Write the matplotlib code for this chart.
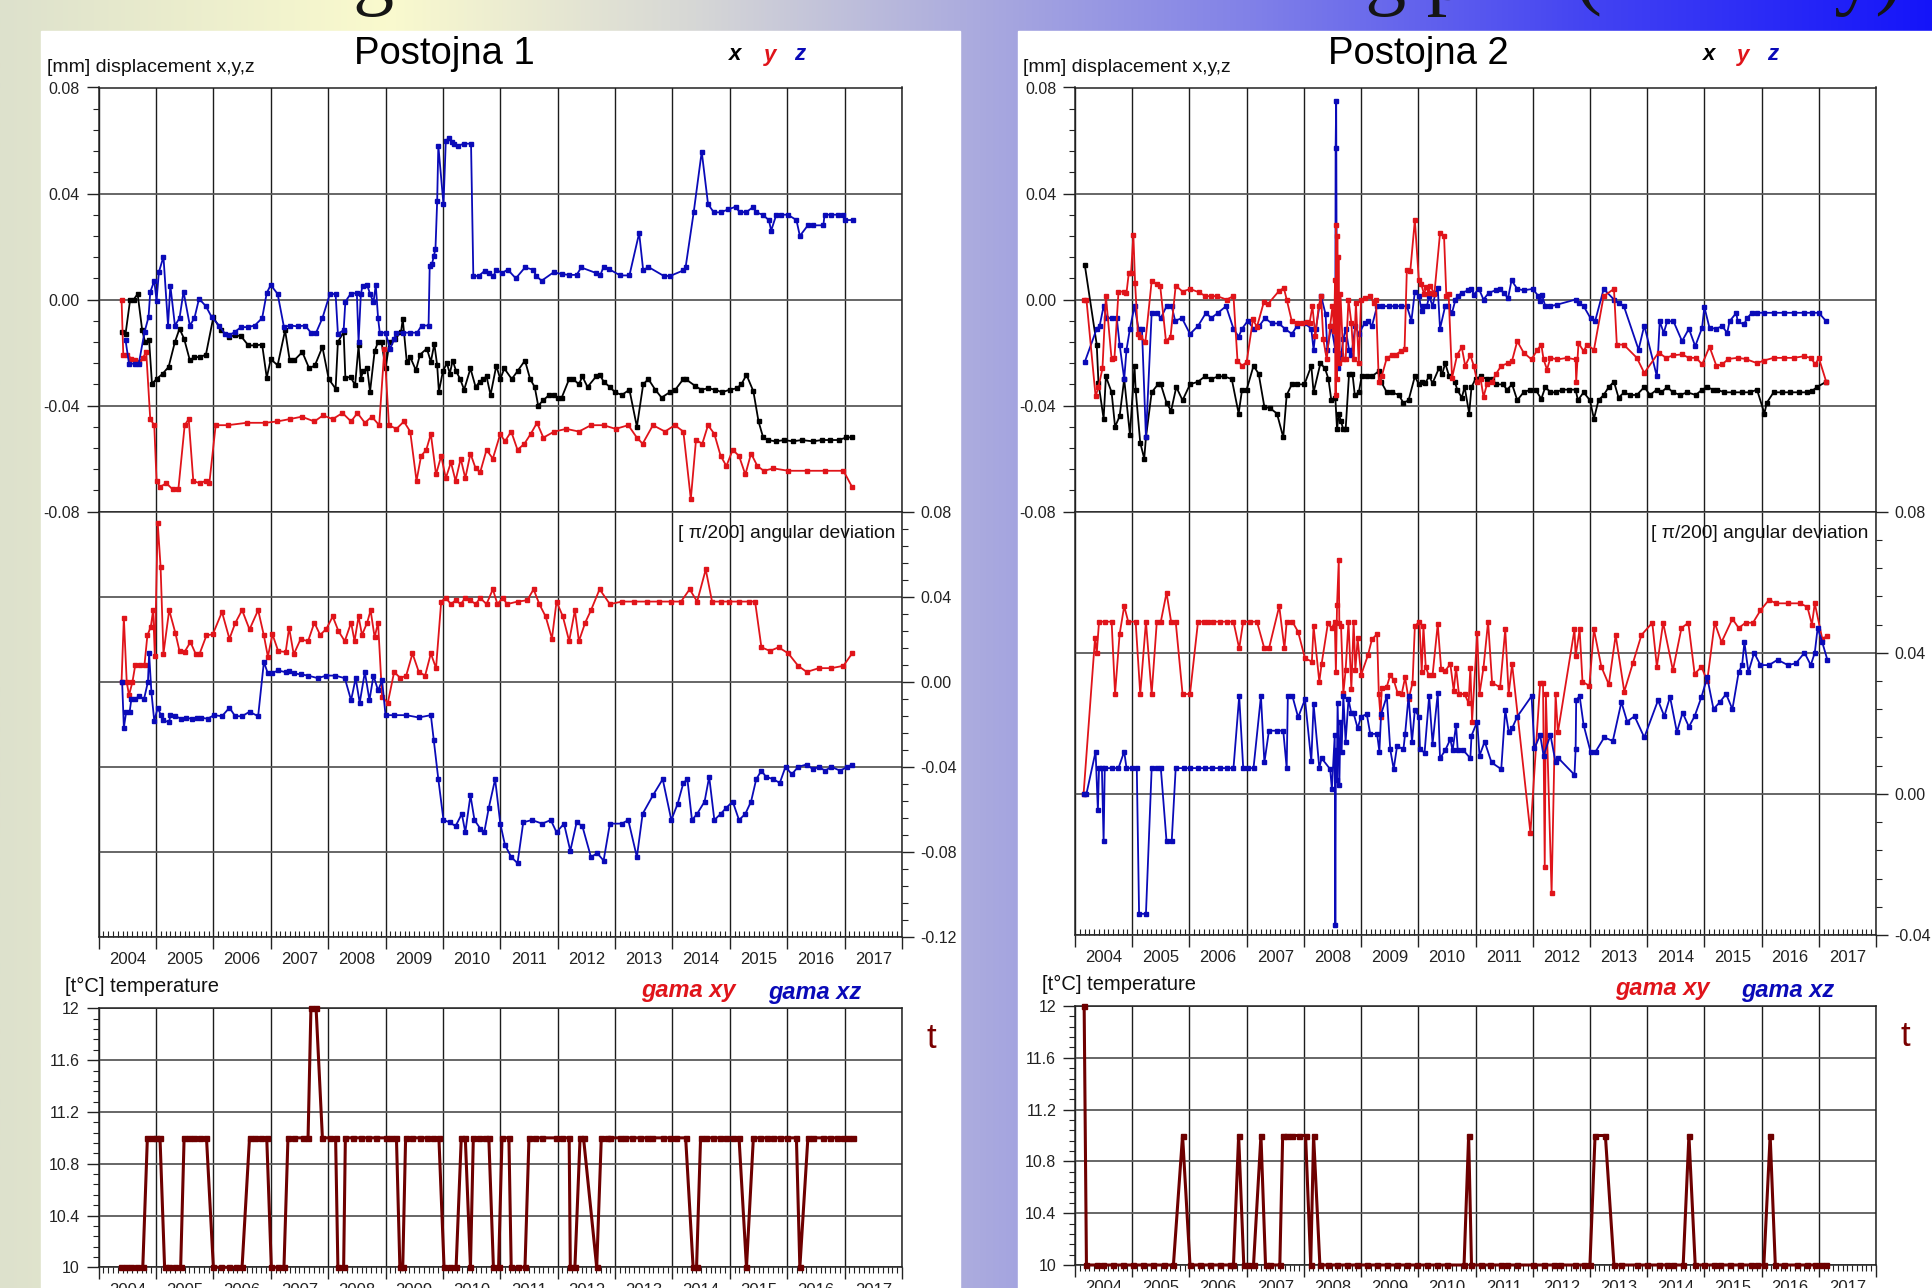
import numpy as np
import matplotlib
matplotlib.use("Agg")
import matplotlib.pyplot as plt
from matplotlib.ticker import MultipleLocator, FormatStrFormatter, FuncFormatter
from matplotlib.patches import Rectangle

plt.rcParams['font.family'] = ['Liberation Sans', 'DejaVu Sans']
plt.rcParams['axes.unicode_minus'] = False

W, H = 1933, 1288

years = list(range(2004, 2018))
year_labels = [str(y) for y in years]

title = "Long-term results of TM 71 reading plot (monthly)"

# ---------------- Postojna 1 ----------------
p1_disp_x = [(2004.41,-0.0123),(2004.47,-0.0129),(2004.55,0.0),(2004.61,0.0),(2004.68,0.0021),(2004.76,-0.0116),
    (2004.81,-0.0160),(2004.88,-0.0154),(2004.93,-0.0317),(2005.01,-0.030),(2005.12,-0.0279),(2005.22,-0.0254),
    (2005.33,-0.0160),(2005.41,-0.0110),(2005.49,-0.0148),(2005.59,-0.0229),(2005.67,-0.0217),(2005.77,-0.0217),
    (2005.87,-0.0208),(2006.00,-0.0066),(2006.13,-0.0116),(2006.27,-0.0141),(2006.37,-0.0135),(2006.48,-0.0138),
    (2006.61,-0.0173),(2006.72,-0.0173),(2006.85,-0.0170),(2006.93,-0.0295),(2007.00,-0.0225),(2007.12,-0.0248),
    (2007.25,-0.0116),(2007.33,-0.0229),(2007.41,-0.0229),(2007.55,-0.0198),(2007.67,-0.0260),(2007.77,-0.0248),
    (2007.90,-0.0179),(2008.01,-0.0300),(2008.13,-0.0336),(2008.17,-0.0160),(2008.27,-0.0123),(2008.30,-0.0295),
    (2008.39,-0.0292),(2008.47,-0.0323),(2008.53,-0.0173),(2008.57,-0.0298),(2008.61,-0.0270),(2008.68,-0.0258),
    (2008.73,-0.0348),(2008.81,-0.0195),(2008.87,-0.0160),(2008.93,-0.0160),(2009.00,-0.0260),(2009.07,-0.0160),
    (2009.17,-0.0148),(2009.27,-0.0123),(2009.30,-0.0073),(2009.37,-0.0235),(2009.43,-0.0217),(2009.53,-0.0267),
    (2009.60,-0.0208),(2009.72,-0.0185),(2009.79,-0.0235),(2009.85,-0.0167),(2009.90,-0.0248),(2009.93,-0.0348),
    (2010.00,-0.027),(2010.07,-0.024),(2010.12,-0.028),(2010.17,-0.023),(2010.23,-0.027),(2010.30,-0.030),
    (2010.37,-0.034),(2010.48,-0.026),(2010.57,-0.033),(2010.64,-0.031),(2010.70,-0.030),(2010.76,-0.029),
    (2010.83,-0.036),(2010.93,-0.025),(2011.00,-0.030),(2011.07,-0.026),(2011.20,-0.030),(2011.30,-0.027),
    (2011.43,-0.023),(2011.52,-0.030),(2011.60,-0.033),(2011.66,-0.040),(2011.75,-0.038),(2011.85,-0.036),
    (2011.93,-0.036),(2012.00,-0.037),(2012.07,-0.037),(2012.20,-0.030),(2012.27,-0.030),(2012.37,-0.032),
    (2012.43,-0.029),(2012.52,-0.033),(2012.67,-0.029),(2012.74,-0.0285),(2012.80,-0.031),(2012.91,-0.033),
    (2013.00,-0.035),(2013.12,-0.036),(2013.25,-0.034),(2013.38,-0.048),(2013.49,-0.032),(2013.58,-0.030),
    (2013.70,-0.034),(2013.81,-0.037),(2013.95,-0.035),(2014.05,-0.034),(2014.19,-0.030),(2014.23,-0.030),
    (2014.39,-0.0325),(2014.50,-0.034),(2014.62,-0.0335),(2014.75,-0.034),(2014.86,-0.035),(2015.00,-0.034),
    (2015.12,-0.0335),(2015.20,-0.032),(2015.29,-0.0284),(2015.41,-0.0346),(2015.50,-0.046),(2015.58,-0.052),
    (2015.66,-0.053),(2015.80,-0.0535),(2015.95,-0.053),(2016.10,-0.0535),(2016.25,-0.053),(2016.45,-0.0535),
    (2016.60,-0.053),(2016.75,-0.053),(2016.90,-0.053),(2017.03,-0.052),(2017.13,-0.052)]

p1_disp_y = [(2004.40,0.0),(2004.43,-0.0208),(2004.50,-0.0208),(2004.57,-0.0223),(2004.63,-0.0229),(2004.70,-0.0235),
    (2004.77,-0.0220),(2004.83,-0.0198),(2004.90,-0.0451),(2004.97,-0.0474),(2005.01,-0.0684),(2005.07,-0.0707),
    (2005.18,-0.0693),(2005.29,-0.0716),(2005.39,-0.0716),(2005.50,-0.0474),(2005.57,-0.0451),(2005.65,-0.0684),
    (2005.76,-0.0693),(2005.87,-0.0684),(2005.93,-0.0693),(2006.04,-0.0474),(2006.25,-0.0474),(2006.58,-0.0465),
    (2006.90,-0.0465),(2007.11,-0.0460),(2007.33,-0.0451),(2007.54,-0.0442),(2007.76,-0.0460),(2007.91,-0.0437),
    (2008.08,-0.0451),(2008.25,-0.0428),(2008.40,-0.0460),(2008.51,-0.0428),(2008.64,-0.0465),(2008.76,-0.0442),
    (2008.89,-0.0474),(2008.98,-0.0186),(2009.06,-0.0474),(2009.19,-0.0488),(2009.32,-0.0460),(2009.43,-0.0498),
    (2009.54,-0.0684),(2009.62,-0.0590),(2009.71,-0.0567),(2009.79,-0.0507),(2009.88,-0.0660),(2009.97,-0.0590),
    (2010.05,-0.0674),(2010.14,-0.0614),(2010.22,-0.0684),(2010.31,-0.0600),(2010.39,-0.0674),(2010.48,-0.0581),
    (2010.57,-0.0637),(2010.65,-0.0651),(2010.76,-0.0567),(2010.87,-0.0600),(2011.00,-0.0507),(2011.08,-0.0535),
    (2011.19,-0.0498),(2011.30,-0.0567),(2011.42,-0.0544),(2011.53,-0.0507),(2011.64,-0.0465),(2011.75,-0.0521),
    (2011.94,-0.0498),(2012.15,-0.0488),(2012.37,-0.0498),(2012.58,-0.0474),(2012.80,-0.0474),(2013.01,-0.0488),
    (2013.23,-0.0474),(2013.38,-0.0521),(2013.48,-0.0544),(2013.66,-0.0474),(2013.87,-0.0498),(2014.04,-0.0474),
    (2014.19,-0.0498),(2014.32,-0.0753),(2014.41,-0.0530),(2014.52,-0.0544),(2014.62,-0.0474),(2014.73,-0.0507),
    (2014.84,-0.0590),(2014.94,-0.0628),(2015.05,-0.0567),(2015.16,-0.0590),(2015.27,-0.0660),(2015.37,-0.0581),
    (2015.48,-0.0628),(2015.59,-0.0646),(2015.76,-0.0637),(2016.02,-0.0646),(2016.34,-0.0646),(2016.66,-0.0646),
    (2016.98,-0.0646),(2017.13,-0.0707)]

p1_disp_z = [(2004.47,-0.0154),(2004.53,-0.0242),(2004.63,-0.0242),(2004.70,-0.0242),(2004.80,-0.0123),(2004.87,-0.0066),
    (2004.90,0.0028),(2004.97,0.0071),(2005.01,-0.0004),(2005.05,0.0103),(2005.13,0.0162),(2005.21,-0.0098),
    (2005.25,0.0053),(2005.33,-0.0098),(2005.41,-0.0070),(2005.48,0.0030),(2005.59,-0.0098),(2005.67,-0.0070),
    (2005.75,0.0003),(2005.87,-0.0025),(2005.97,-0.0066),(2006.10,-0.0098),(2006.20,-0.0129),(2006.27,-0.0135),
    (2006.37,-0.0123),(2006.48,-0.0104),(2006.60,-0.0104),(2006.72,-0.0098),(2006.85,-0.0070),(2006.93,0.0025),
    (2007.00,0.0055),(2007.12,0.0021),(2007.23,-0.0104),(2007.33,-0.0098),(2007.47,-0.0101),(2007.60,-0.0098),
    (2007.70,-0.0125),(2007.79,-0.0125),(2007.90,-0.0070),(2008.03,0.0021),(2008.13,0.0021),(2008.17,-0.0129),
    (2008.27,-0.0116),(2008.30,-0.0008),(2008.39,0.0021),(2008.50,0.0025),(2008.53,-0.0160),(2008.57,0.0021),
    (2008.60,0.0053),(2008.68,0.0055),(2008.73,0.0021),(2008.79,-0.0010),(2008.83,0.0055),(2008.87,-0.0070),
    (2008.90,-0.0125),(2009.00,-0.0125),(2009.08,-0.0185),(2009.15,-0.0150),(2009.19,-0.0125),(2009.30,-0.0125),
    (2009.43,-0.0125),(2009.55,-0.0125),(2009.63,-0.0098),(2009.75,-0.0098),(2009.77,0.0128),(2009.81,0.0134),
    (2009.84,0.0163),(2009.87,0.0190),(2009.90,0.0372),(2009.92,0.0581),(2010.01,0.0359),(2010.05,0.0597),
    (2010.10,0.0610),(2010.15,0.0593),(2010.19,0.0588),(2010.27,0.0581),(2010.37,0.0588),(2010.49,0.0588),
    (2010.53,0.0088),(2010.63,0.0090),(2010.73,0.0109),(2010.80,0.0100),(2010.88,0.0088),(2010.93,0.0113),
    (2011.03,0.0100),(2011.13,0.0113),(2011.27,0.0080),(2011.43,0.0121),(2011.57,0.0113),(2011.63,0.0088),
    (2011.72,0.0071),(2011.93,0.0103),(2012.07,0.0096),(2012.20,0.0093),(2012.33,0.0093),(2012.41,0.0121),
    (2012.67,0.0100),(2012.74,0.0091),(2012.80,0.0123),(2012.90,0.0114),(2013.09,0.0091),(2013.25,0.0091),
    (2013.42,0.0251),(2013.49,0.0110),(2013.58,0.0123),(2013.85,0.0089),(2013.96,0.0089),(2014.19,0.0110),
    (2014.23,0.0123),(2014.37,0.0329),(2014.51,0.0558),(2014.62,0.0360),(2014.72,0.0329),(2014.84,0.0329),
    (2014.97,0.0340),(2015.10,0.0350),(2015.17,0.0330),(2015.29,0.0330),(2015.41,0.0350),(2015.45,0.0330),
    (2015.57,0.0320),(2015.68,0.0300),(2015.72,0.0260),(2015.81,0.0320),(2015.90,0.0320),(2016.01,0.0320),
    (2016.16,0.0300),(2016.22,0.0240),(2016.36,0.0280),(2016.45,0.0280),(2016.63,0.0280),(2016.65,0.0320),
    (2016.77,0.0320),(2016.88,0.0320),(2016.97,0.0320),(2017.00,0.0300),(2017.14,0.0300)]

p1_ang_xy = [(2004.40,0.0),(2004.44,0.0301),(2004.49,0.0),(2004.53,-0.0064),(2004.59,0.0),(2004.64,0.0080),
    (2004.72,0.0080),(2004.80,0.0080),(2004.85,0.0218),(2004.91,0.0259),(2004.95,0.0337),(2004.98,0.0121),
    (2005.03,0.0748),(2005.08,0.0541),(2005.13,0.0132),(2005.23,0.0337),(2005.34,0.0227),(2005.41,0.0144),
    (2005.50,0.0141),(2005.60,0.0187),(2005.69,0.0132),(2005.76,0.0132),(2005.88,0.0218),(2005.99,0.0223),
    (2006.15,0.0328),(2006.28,0.0202),(2006.38,0.0275),(2006.50,0.0337),(2006.63,0.0246),(2006.78,0.0337),
    (2006.88,0.0218),(2006.95,0.0118),(2007.03,0.0223),(2007.13,0.0144),(2007.26,0.0140),(2007.32,0.0254),
    (2007.40,0.0129),(2007.52,0.0200),(2007.65,0.0191),(2007.76,0.0278),(2007.86,0.0220),(2007.97,0.0249),
    (2008.08,0.0307),(2008.18,0.0238),(2008.29,0.0191),(2008.40,0.0278),(2008.46,0.0191),(2008.53,0.0307),
    (2008.59,0.0220),(2008.68,0.0278),(2008.74,0.0336),(2008.81,0.0209),(2008.87,0.0278),(2008.94,-0.0070),
    (2009.04,-0.0099),(2009.15,0.0046),(2009.26,0.0017),(2009.36,0.0029),(2009.47,0.0133),(2009.58,0.0046),
    (2009.69,0.0029),(2009.79,0.0133),(2009.88,0.0064),(2009.97,0.0377),(2010.05,0.0394),(2010.14,0.0365),
    (2010.22,0.0383),(2010.31,0.0365),(2010.39,0.0394),(2010.48,0.0383),(2010.57,0.0365),(2010.65,0.0394),
    (2010.76,0.0365),(2010.87,0.0435),(2010.95,0.0365),(2011.04,0.0394),(2011.12,0.0365),(2011.30,0.0377),
    (2011.47,0.0383),(2011.58,0.0435),(2011.68,0.0365),(2011.79,0.0307),(2011.90,0.0203),(2011.98,0.0377),
    (2012.09,0.0307),(2012.20,0.0191),(2012.30,0.0336),(2012.37,0.0191),(2012.48,0.0278),(2012.58,0.0336),
    (2012.73,0.0435),(2012.91,0.0365),(2013.12,0.0377),(2013.33,0.0377),(2013.55,0.0377),(2013.76,0.0377),
    (2013.98,0.0377),(2014.15,0.0377),(2014.30,0.0435),(2014.43,0.0377),(2014.58,0.0528),(2014.69,0.0377),
    (2014.84,0.0377),(2014.99,0.0377),(2015.16,0.0377),(2015.33,0.0377),(2015.44,0.0377),(2015.55,0.0162),
    (2015.70,0.0145),(2015.85,0.0162),(2016.02,0.0133),(2016.19,0.0075),(2016.34,0.0046),(2016.55,0.0064),
    (2016.77,0.0064),(2016.98,0.0075),(2017.13,0.0133)]

p1_ang_xz = [(2004.41,0.0),(2004.44,-0.0216),(2004.48,-0.0143),(2004.54,-0.0143),(2004.57,-0.0083),(2004.64,-0.0083),
    (2004.70,-0.0067),(2004.79,-0.0083),(2004.86,0.0),(2004.88,0.0133),(2004.92,-0.0049),(2004.97,-0.0185),
    (2005.03,-0.0122),(2005.08,-0.0154),(2005.13,-0.0182),(2005.23,-0.0190),(2005.25,-0.0158),(2005.34,-0.0162),
    (2005.44,-0.0174),(2005.52,-0.0169),(2005.62,-0.0174),(2005.72,-0.0169),(2005.79,-0.0169),(2005.90,-0.0174),
    (2006.01,-0.0157),(2006.15,-0.0162),(2006.28,-0.0122),(2006.38,-0.0162),(2006.50,-0.0162),(2006.63,-0.0141),
    (2006.78,-0.0162),(2006.88,0.0093),(2006.95,0.0039),(2007.03,0.0042),(2007.13,0.0053),(2007.26,0.0045),
    (2007.32,0.0050),(2007.40,0.0039),(2007.52,0.0035),(2007.65,0.0029),(2007.82,0.0017),(2007.97,0.0029),
    (2008.12,0.0029),(2008.29,0.0017),(2008.40,-0.0087),(2008.48,0.0017),(2008.55,-0.0099),(2008.64,0.0046),
    (2008.72,-0.0087),(2008.79,0.0029),(2008.87,-0.0041),(2008.94,0.0006),(2009.00,-0.0157),(2009.15,-0.0157),
    (2009.36,-0.0157),(2009.58,-0.0168),(2009.79,-0.0157),(2009.84,-0.0273),(2009.92,-0.0458),(2010.01,-0.0650),
    (2010.12,-0.0661),(2010.22,-0.0679),(2010.33,-0.0621),(2010.39,-0.0708),(2010.48,-0.0534),(2010.55,-0.0650),
    (2010.65,-0.0690),(2010.72,-0.0708),(2010.80,-0.0592),(2010.91,-0.0458),(2011.00,-0.0667),(2011.08,-0.0766),
    (2011.19,-0.0824),(2011.30,-0.0853),(2011.40,-0.0661),(2011.55,-0.0650),(2011.73,-0.0667),(2011.88,-0.0650),
    (2011.98,-0.0708),(2012.11,-0.0667),(2012.22,-0.0795),(2012.33,-0.0661),(2012.43,-0.0679),(2012.58,-0.0824),
    (2012.69,-0.0806),(2012.80,-0.0841),(2012.91,-0.0667),(2013.12,-0.0667),(2013.23,-0.0650),(2013.38,-0.0824),
    (2013.48,-0.0621),(2013.66,-0.0534),(2013.83,-0.0458),(2013.98,-0.0650),(2014.09,-0.0574),(2014.19,-0.0476),
    (2014.26,-0.0458),(2014.34,-0.0650),(2014.43,-0.0621),(2014.56,-0.0563),(2014.64,-0.0447),(2014.73,-0.0650),
    (2014.84,-0.0621),(2014.94,-0.0592),(2015.05,-0.0563),(2015.16,-0.0650),(2015.27,-0.0621),(2015.37,-0.0563),
    (2015.46,-0.0458),(2015.55,-0.0418),(2015.63,-0.0447),(2015.76,-0.0458),(2015.87,-0.0476),(2015.97,-0.0400),
    (2016.08,-0.0435),(2016.19,-0.0400),(2016.34,-0.0389),(2016.45,-0.0412),(2016.55,-0.0400),(2016.66,-0.0418),
    (2016.77,-0.0400),(2016.92,-0.0418),(2017.05,-0.0400),(2017.13,-0.0389)]

p1_temp = [(2004.39,10),(2004.47,10),(2004.57,10),(2004.67,10),(2004.77,10),(2004.85,11),(2004.93,11),(2005.00,11),
    (2005.07,11),(2005.15,10),(2005.23,10),(2005.33,10),(2005.43,10),(2005.49,11),(2005.57,11),(2005.67,11),
    (2005.77,11),(2005.88,11),(2006.00,10),(2006.13,10),(2006.27,10),(2006.39,10),(2006.50,10),(2006.63,11),
    (2006.73,11),(2006.83,11),(2006.93,11),(2007.01,10),(2007.12,10),(2007.23,10),(2007.30,11),(2007.40,11),
    (2007.57,11),(2007.65,11),(2007.70,12),(2007.79,12),(2007.90,11),(2008.03,11),(2008.13,11),(2008.17,10),
    (2008.27,10),(2008.30,11),(2008.43,11),(2008.57,11),(2008.70,11),(2008.83,11),(2009.00,11),(2009.10,11),
    (2009.19,11),(2009.25,10),(2009.30,10),(2009.35,11),(2009.47,11),(2009.60,11),(2009.73,11),(2009.83,11),
    (2009.93,11),(2010.02,10),(2010.12,10),(2010.23,10),(2010.32,11),(2010.39,11),(2010.48,10),(2010.53,11),
    (2010.63,11),(2010.73,11),(2010.80,11),(2010.88,10),(2010.97,10),(2011.03,11),(2011.15,11),(2011.19,10),
    (2011.30,10),(2011.43,10),(2011.50,11),(2011.60,11),(2011.73,11),(2011.97,11),(2012.07,11),(2012.20,11),
    (2012.22,10),(2012.30,10),(2012.39,11),(2012.45,11),(2012.68,10),(2012.76,11),(2012.86,11),(2012.91,11),
    (2013.09,11),(2013.17,11),(2013.29,11),(2013.43,11),(2013.55,11),(2013.64,11),(2013.84,11),(2013.96,11),
    (2014.07,11),(2014.23,11),(2014.36,10),(2014.42,10),(2014.49,11),(2014.59,11),(2014.71,11),(2014.83,11),
    (2014.94,11),(2015.05,11),(2015.16,11),(2015.29,10),(2015.41,11),(2015.52,11),(2015.64,11),(2015.75,11),
    (2015.87,11),(2015.99,11),(2016.16,11),(2016.22,10),(2016.36,11),(2016.45,11),(2016.62,11),(2016.74,11),
    (2016.86,11),(2016.97,11),(2017.06,11),(2017.14,11)]

# ---------------- Postojna 2 ----------------
p2_disp_x = [(2004.17,0.0132),(2004.38,-0.017),(2004.41,-0.0315),(2004.50,-0.045),(2004.54,-0.029),(2004.64,-0.035),
    (2004.70,-0.048),(2004.78,-0.044),(2004.86,-0.030),(2004.96,-0.051),(2005.04,-0.025),(2005.06,-0.034),
    (2005.14,-0.054),(2005.21,-0.060),(2005.24,-0.052),(2005.34,-0.035),(2005.45,-0.032),(2005.50,-0.032),
    (2005.60,-0.039),(2005.68,-0.042),(2005.77,-0.033),(2005.88,-0.038),(2006.01,-0.032),(2006.15,-0.031),
    (2006.27,-0.029),(2006.38,-0.030),(2006.50,-0.029),(2006.61,-0.029),(2006.74,-0.030),(2006.86,-0.043),
    (2006.92,-0.034),(2007.00,-0.034),(2007.12,-0.025),(2007.21,-0.028),(2007.31,-0.0405),(2007.41,-0.041),
    (2007.53,-0.043),(2007.64,-0.052),(2007.70,-0.036),(2007.79,-0.032),(2007.88,-0.032),(2008.01,-0.032),
    (2008.13,-0.025),(2008.17,-0.035),(2008.29,-0.024),(2008.37,-0.026),(2008.43,-0.030),(2008.48,-0.038),
    (2008.55,-0.037),(2008.58,-0.049),(2008.61,-0.043),(2008.65,-0.046),(2008.69,-0.049),(2008.73,-0.049),
    (2008.79,-0.028),(2008.85,-0.028),(2008.89,-0.036),(2008.96,-0.035),(2009.01,-0.029),(2009.10,-0.029),
    (2009.19,-0.029),(2009.31,-0.027),(2009.35,-0.031),(2009.45,-0.035),(2009.54,-0.035),(2009.66,-0.036),
    (2009.74,-0.039),(2009.83,-0.038),(2009.94,-0.029),(2010.01,-0.032),(2010.06,-0.031),(2010.12,-0.0315),
    (2010.19,-0.029),(2010.25,-0.0315),(2010.36,-0.026),(2010.42,-0.028),(2010.47,-0.024),(2010.54,-0.029),
    (2010.64,-0.031),(2010.68,-0.034),(2010.76,-0.037),(2010.81,-0.033),(2010.89,-0.043),(2010.93,-0.033),
    (2011.00,-0.030),(2011.09,-0.029),(2011.20,-0.030),(2011.29,-0.030),(2011.36,-0.032),(2011.48,-0.032),
    (2011.55,-0.034),(2011.64,-0.032),(2011.73,-0.038),(2011.84,-0.035),(2011.96,-0.034),(2012.05,-0.034),
    (2012.15,-0.0375),(2012.22,-0.033),(2012.31,-0.035),(2012.40,-0.035),(2012.52,-0.034),(2012.63,-0.034),
    (2012.75,-0.034),(2012.79,-0.038),(2012.89,-0.035),(2013.00,-0.038),(2013.07,-0.045),(2013.15,-0.038),
    (2013.24,-0.036),(2013.33,-0.033),(2013.42,-0.031),(2013.50,-0.037),(2013.60,-0.035),(2013.70,-0.036),
    (2013.82,-0.036),(2013.95,-0.033),(2014.05,-0.036),(2014.17,-0.034),(2014.25,-0.035),(2014.35,-0.033),
    (2014.45,-0.035),(2014.58,-0.036),(2014.70,-0.035),(2014.85,-0.036),(2014.96,-0.034),(2015.05,-0.033),
    (2015.15,-0.034),(2015.22,-0.034),(2015.35,-0.035),(2015.50,-0.035),(2015.65,-0.035),(2015.80,-0.035),
    (2015.92,-0.034),(2016.05,-0.043),(2016.09,-0.039),(2016.21,-0.035),(2016.35,-0.035),(2016.50,-0.035),
    (2016.65,-0.035),(2016.80,-0.035),(2016.88,-0.0345),(2016.97,-0.033),(2017.13,-0.031)]

p2_disp_y = [(2004.15,0.0),(2004.20,0.0),(2004.36,-0.0365),(2004.41,-0.033),(2004.48,-0.026),(2004.54,0.0013),
    (2004.64,-0.0226),(2004.69,-0.022),(2004.76,0.003),(2004.86,0.003),(2004.90,0.0025),(2004.94,0.010),
    (2004.98,0.010),(2005.02,0.0245),(2005.05,0.0063),(2005.10,-0.013),(2005.14,-0.014),(2005.23,-0.016),
    (2005.34,0.007),(2005.43,0.0057),(2005.49,0.005),(2005.59,-0.0157),(2005.67,-0.014),(2005.76,0.0053),
    (2005.88,0.003),(2006.01,0.004),(2006.16,0.0028),(2006.28,0.0013),(2006.37,0.0013),(2006.48,0.0013),
    (2006.65,0.0),(2006.77,0.0013),(2006.84,-0.023),(2006.92,-0.025),(2007.00,-0.0236),(2007.11,-0.0075),
    (2007.18,-0.0103),(2007.30,-0.001),(2007.38,-0.0015),(2007.56,0.0031),(2007.65,0.0044),(2007.70,0.0),
    (2007.79,-0.0082),(2007.88,-0.0088),(2007.97,-0.0088),(2008.05,-0.0085),(2008.10,-0.0088),(2008.15,-0.0025),
    (2008.20,-0.0138),(2008.26,-0.0025),(2008.30,0.0013),(2008.34,-0.015),(2008.40,-0.0226),(2008.46,-0.010),
    (2008.50,-0.0025),(2008.53,-0.012),(2008.545,0.0075),(2008.555,-0.036),(2008.565,0.028),(2008.575,-0.030),
    (2008.585,0.024),(2008.595,-0.020),(2008.605,0.016),(2008.62,-0.024),(2008.64,0.002),(2008.69,-0.0226),
    (2008.73,-0.0226),(2008.78,0.0),(2008.83,-0.0088),(2008.87,-0.0226),(2008.91,-0.0013),(2008.96,-0.024),
    (2009.00,0.0),(2009.07,0.0006),(2009.16,0.0013),(2009.22,-0.0013),(2009.26,0.0),(2009.31,-0.031),
    (2009.36,-0.029),(2009.45,-0.022),(2009.54,-0.021),(2009.61,-0.0208),(2009.69,-0.0195),(2009.76,-0.0186),
    (2009.80,0.0113),(2009.86,0.0107),(2009.94,0.030),(2010.01,0.0073),(2010.05,0.006),(2010.10,0.002),
    (2010.14,0.0048),(2010.18,0.0025),(2010.21,0.0053),(2010.28,0.002),(2010.38,0.025),(2010.45,0.024),
    (2010.49,0.0015),(2010.53,0.002),(2010.59,-0.0296),(2010.68,-0.0208),(2010.76,-0.018),(2010.82,-0.025),
    (2010.91,-0.021),(2010.97,-0.025),(2011.03,-0.031),(2011.09,-0.030),(2011.14,-0.0367),(2011.20,-0.032),
    (2011.29,-0.031),(2011.36,-0.028),(2011.45,-0.025),(2011.57,-0.024),(2011.64,-0.023),(2011.73,-0.0157),
    (2011.84,-0.020),(2011.98,-0.0226),(2012.08,-0.019),(2012.15,-0.017),(2012.19,-0.0226),(2012.25,-0.0264),
    (2012.31,-0.022),(2012.43,-0.0226),(2012.60,-0.022),(2012.75,-0.0226),(2012.76,-0.031),(2012.80,-0.0164),
    (2012.89,-0.0195),(2012.95,-0.017),(2013.07,-0.019),(2013.24,0.0013),(2013.42,0.004),(2013.47,-0.017),
    (2013.59,-0.017),(2013.82,-0.022),(2013.95,-0.0277),(2014.20,-0.020),(2014.33,-0.022),(2014.46,-0.021),
    (2014.61,-0.0207),(2014.73,-0.022),(2014.86,-0.022),(2014.96,-0.0245),(2015.09,-0.0178),(2015.21,-0.025),
    (2015.31,-0.0245),(2015.42,-0.0224),(2015.58,-0.022),(2015.72,-0.0224),(2015.92,-0.024),(2016.04,-0.023),
    (2016.21,-0.022),(2016.39,-0.022),(2016.56,-0.022),(2016.74,-0.0214),(2016.86,-0.022),(2016.94,-0.0245),
    (2017.00,-0.022),(2017.13,-0.031)]

p2_disp_z = [(2004.17,-0.0236),(2004.38,-0.011),(2004.43,-0.010),(2004.50,-0.0025),(2004.55,-0.007),(2004.64,-0.007),
    (2004.73,-0.007),(2004.78,-0.017),(2004.86,-0.030),(2004.90,-0.019),(2004.96,-0.011),(2005.04,-0.0025),
    (2005.11,-0.011),(2005.17,-0.011),(2005.24,-0.052),(2005.34,-0.005),(2005.43,-0.005),(2005.50,-0.007),
    (2005.60,-0.0025),(2005.69,-0.0025),(2005.75,-0.008),(2005.87,-0.007),(2006.01,-0.013),(2006.15,-0.010),
    (2006.29,-0.005),(2006.38,-0.007),(2006.50,-0.005),(2006.64,-0.0025),(2006.77,-0.011),(2006.86,-0.014),
    (2006.92,-0.011),(2007.02,-0.008),(2007.12,-0.011),(2007.22,-0.010),(2007.32,-0.007),(2007.44,-0.009),
    (2007.56,-0.009),(2007.67,-0.011),(2007.79,-0.013),(2007.88,-0.010),(2008.02,-0.009),(2008.13,-0.011),
    (2008.17,-0.019),(2008.21,-0.011),(2008.30,0.0015),(2008.38,-0.0056),(2008.41,-0.019),(2008.48,-0.010),
    (2008.55,-0.019),(2008.555,0.057),(2008.565,0.075),(2008.575,-0.005),(2008.60,-0.026),(2008.65,-0.021),
    (2008.69,-0.015),(2008.73,-0.011),(2008.79,-0.019),(2008.83,-0.021),(2008.90,-0.010),(2008.96,-0.013),
    (2009.06,-0.009),(2009.12,-0.008),(2009.19,-0.010),(2009.28,-0.0025),(2009.36,-0.0025),(2009.48,-0.0025),
    (2009.60,-0.0025),(2009.70,-0.0025),(2009.80,-0.0025),(2009.88,-0.008),(2009.94,0.003),(2010.01,0.0015),
    (2010.06,-0.0044),(2010.09,-0.0025),(2010.15,-0.0025),(2010.19,0.0013),(2010.25,-0.0025),(2010.30,0.0025),
    (2010.34,0.0044),(2010.38,-0.011),(2010.47,-0.0025),(2010.52,-0.0025),(2010.59,-0.005),(2010.65,0.0),
    (2010.69,0.0013),(2010.76,0.0025),(2010.87,0.0035),(2010.93,0.004),(2010.97,0.0019),(2011.06,0.004),
    (2011.14,0.0),(2011.23,0.0025),(2011.35,0.0035),(2011.43,0.004),(2011.49,0.0025),(2011.57,0.0006),
    (2011.63,0.0073),(2011.73,0.004),(2011.84,0.0035),(2012.00,0.004),(2012.10,0.0013),(2012.13,-0.0006),
    (2012.16,0.0019),(2012.22,-0.0025),(2012.31,-0.0025),(2012.43,-0.0019),(2012.75,0.0),(2012.81,-0.0013),
    (2012.89,-0.0025),(2013.01,-0.007),(2013.09,-0.0082),(2013.24,0.004),(2013.42,0.0),(2013.50,-0.0013),
    (2013.59,-0.0023),(2013.85,-0.0189),(2013.95,-0.0098),(2014.17,-0.029),(2014.22,-0.0082),(2014.29,-0.0126),
    (2014.35,-0.0082),(2014.46,-0.0082),(2014.61,-0.0157),(2014.73,-0.011),(2014.84,-0.0176),(2014.96,-0.0107),
    (2015.00,-0.0028),(2015.09,-0.0107),(2015.21,-0.011),(2015.31,-0.010),(2015.40,-0.0126),(2015.44,-0.0082),
    (2015.56,-0.005),(2015.58,-0.0082),(2015.69,-0.0094),(2015.75,-0.007),(2015.83,-0.005),(2015.92,-0.005),
    (2016.04,-0.005),(2016.21,-0.005),(2016.39,-0.005),(2016.56,-0.005),(2016.74,-0.005),(2016.88,-0.005),
    (2017.00,-0.005),(2017.13,-0.0082)]

p2_ang_xy = [(2004.15,0.0),(2004.35,0.0441),(2004.38,0.0398),(2004.42,0.0488),(2004.52,0.0488),(2004.64,0.0488),
    (2004.70,0.0283),(2004.78,0.0453),(2004.86,0.0532),(2004.93,0.0488),(2005.06,0.0488),(2005.14,0.0283),
    (2005.24,0.0488),(2005.34,0.0283),(2005.43,0.0488),(2005.50,0.0488),(2005.60,0.057),(2005.68,0.0488),
    (2005.76,0.0488),(2005.88,0.0283),(2006.01,0.0283),(2006.15,0.0488),(2006.25,0.0488),(2006.33,0.0488),
    (2006.42,0.0488),(2006.54,0.0488),(2006.65,0.0488),(2006.77,0.0488),(2006.87,0.0412),(2006.94,0.0488),
    (2007.06,0.0488),(2007.18,0.0488),(2007.31,0.0412),(2007.39,0.0412),(2007.57,0.0532),(2007.66,0.0412),
    (2007.70,0.0488),(2007.80,0.0488),(2007.90,0.0459),(2008.02,0.0384),(2008.14,0.0375),(2008.17,0.0475),
    (2008.27,0.0318),(2008.31,0.0368),(2008.42,0.0483),(2008.49,0.0469),(2008.54,0.0488),(2008.56,0.0346),
    (2008.58,0.0535),(2008.61,0.0662),(2008.62,0.0483),(2008.65,0.0475),(2008.69,0.0285),(2008.73,0.0351),
    (2008.78,0.0488),(2008.83,0.0296),(2008.87,0.0488),(2008.90,0.0350),(2008.94,0.0441),(2009.00,0.0337),
    (2009.12,0.0393),(2009.19,0.0438),(2009.28,0.0453),(2009.31,0.0283),(2009.34,0.0219),(2009.36,0.0299),
    (2009.45,0.0304),(2009.51,0.0337),(2009.57,0.0323),(2009.64,0.0285),(2009.71,0.0283),(2009.77,0.0330),
    (2009.83,0.0268),(2009.90,0.0315),(2009.94,0.0475),(2010.02,0.0488),(2010.06,0.0346),(2010.09,0.0475),
    (2010.13,0.0360),(2010.18,0.0337),(2010.25,0.0337),(2010.34,0.0481),(2010.40,0.0353),(2010.47,0.0349),
    (2010.56,0.0368),(2010.62,0.0292),(2010.66,0.0358),(2010.71,0.0283),(2010.81,0.0283),(2010.88,0.0257),
    (2010.91,0.0358),(2010.94,0.0205),(2011.03,0.0457),(2011.07,0.0283),(2011.14,0.0358),(2011.22,0.0488),
    (2011.29,0.0315),(2011.43,0.0302),(2011.52,0.0466),(2011.58,0.0283),(2011.64,0.0368),(2011.96,-0.0111),
    (2012.13,0.0315),(2012.18,0.0315),(2012.21,-0.0206),(2012.23,0.0283),(2012.33,-0.0281),(2012.40,0.0283),
    (2012.44,0.0174),(2012.73,0.0466),(2012.75,0.0390),(2012.82,0.0466),(2012.87,0.0318),(2012.99,0.0306),
    (2013.07,0.0466),(2013.20,0.0360),(2013.33,0.0310),(2013.45,0.0450),(2013.60,0.0290),(2013.75,0.0370),
    (2013.90,0.0450),(2014.09,0.0485),(2014.17,0.0360),(2014.28,0.0485),(2014.45,0.0350),(2014.60,0.0470),
    (2014.72,0.0485),(2014.83,0.0340),(2014.95,0.0360),(2015.05,0.0320),(2015.18,0.0485),(2015.30,0.0430),
    (2015.49,0.0496),(2015.60,0.0470),(2015.72,0.0485),(2015.85,0.0485),(2015.98,0.0520),(2016.13,0.0550),
    (2016.25,0.0540),(2016.46,0.0540),(2016.67,0.0540),(2016.80,0.0530),(2016.88,0.0480),(2016.93,0.0540),
    (2017.06,0.0440),(2017.15,0.0447)]

p2_ang_xz = [(2004.15,0.0),(2004.20,0.0),(2004.36,0.012),(2004.40,-0.0047),(2004.42,0.0073),(2004.47,0.0073),
    (2004.50,-0.0135),(2004.52,0.0073),(2004.64,0.0073),(2004.76,0.0073),(2004.86,0.012),(2004.90,0.0073),
    (2004.99,0.0073),(2005.08,0.0073),(2005.12,-0.034),(2005.24,-0.034),(2005.34,0.0073),(2005.43,0.0073),
    (2005.50,0.0073),(2005.60,-0.0135),(2005.69,-0.0135),(2005.76,0.0073),(2005.90,0.0073),(2006.01,0.0073),
    (2006.15,0.0073),(2006.27,0.0073),(2006.39,0.0073),(2006.54,0.0073),(2006.65,0.0073),(2006.77,0.0073),
    (2006.87,0.0277),(2006.94,0.0073),(2007.03,0.0073),(2007.12,0.0073),(2007.25,0.0277),(2007.31,0.0089),
    (2007.39,0.0179),(2007.53,0.0179),(2007.64,0.0179),(2007.70,0.0073),(2007.72,0.0277),(2007.80,0.0277),
    (2007.90,0.0217),(2008.02,0.0268),(2008.13,0.0092),(2008.17,0.0255),(2008.27,0.0073),(2008.31,0.0101),
    (2008.46,0.0070),(2008.49,0.0013),(2008.54,0.0167),(2008.55,-0.0371),(2008.56,0.0123),(2008.575,0.0040),
    (2008.59,0.0257),(2008.62,0.0025),(2008.64,0.0205),(2008.66,0.0120),(2008.69,0.0277),(2008.73,0.0148),
    (2008.78,0.0268),(2008.83,0.0228),(2008.87,0.0228),(2008.94,0.0186),(2009.00,0.0219),(2009.10,0.0226),
    (2009.16,0.0170),(2009.28,0.0170),(2009.32,0.0120),(2009.35,0.0226),(2009.45,0.0277),(2009.51,0.0126),
    (2009.57,0.0070),(2009.63,0.0136),(2009.74,0.0126),(2009.77,0.0170),(2009.83,0.0277),(2009.89,0.0148),
    (2009.94,0.0238),(2010.01,0.0219),(2010.03,0.0126),(2010.11,0.0117),(2010.19,0.0277),(2010.25,0.0142),
    (2010.34,0.0285),(2010.38,0.0101),(2010.47,0.0123),(2010.56,0.0155),(2010.60,0.0123),(2010.66,0.0195),
    (2010.69,0.0123),(2010.79,0.0123),(2010.91,0.0101),(2010.93,0.0165),(2011.03,0.0205),(2011.07,0.0108),
    (2011.16,0.0148),(2011.28,0.0089),(2011.45,0.0070),(2011.52,0.0238),(2011.58,0.0176),(2011.64,0.0186),
    (2011.73,0.0219),(2011.98,0.0277),(2012.03,0.0129),(2012.13,0.0167),(2012.19,0.0108),(2012.31,0.0167),
    (2012.40,0.0089),(2012.45,0.0101),(2012.73,0.0054),(2012.75,0.0126),(2012.76,0.0266),(2012.82,0.0277),
    (2012.89,0.0195),(2013.01,0.0120),(2013.10,0.0120),(2013.25,0.0160),(2013.40,0.0150),(2013.55,0.0260),
    (2013.65,0.0205),(2013.78,0.0220),(2013.95,0.0160),(2014.19,0.0265),(2014.30,0.0220),(2014.40,0.0275),
    (2014.52,0.0175),(2014.62,0.0230),(2014.73,0.0190),(2014.83,0.0220),(2014.95,0.0275),(2015.05,0.0330),
    (2015.16,0.0240),(2015.27,0.0260),(2015.38,0.0283),(2015.49,0.0240),(2015.60,0.0345),(2015.66,0.0365),
    (2015.70,0.0430),(2015.77,0.0345),(2015.87,0.0400),(2015.98,0.0365),(2016.13,0.0365),(2016.28,0.0380),
    (2016.46,0.0365),(2016.60,0.0370),(2016.75,0.0400),(2016.86,0.0365),(2016.93,0.0400),(2016.98,0.0470),
    (2017.06,0.0430),(2017.15,0.0380)]

p2_temp = [(2004.16,12),(2004.20,10),(2004.38,10),(2004.49,10),(2004.67,10),(2004.84,10),(2005.02,10),(2005.19,10),
    (2005.37,10),(2005.55,10),(2005.72,10),(2005.88,11),(2006.01,10),(2006.19,10),(2006.36,10),(2006.54,10),
    (2006.71,10),(2006.77,10),(2006.86,11),(2006.95,10),(2007.03,10),(2007.12,10),(2007.25,11),(2007.33,10),
    (2007.41,10),(2007.58,10),(2007.63,11),(2007.70,11),(2007.79,11),(2007.91,11),(2008.03,11),(2008.12,10),
    (2008.17,11),(2008.28,10),(2008.43,10),(2008.58,10),(2008.76,10),(2008.93,10),(2009.10,10),(2009.28,10),
    (2009.46,10),(2009.63,10),(2009.81,10),(2009.98,10),(2010.16,10),(2010.33,10),(2010.51,10),(2010.80,10),
    (2010.88,11),(2010.93,10),(2011.09,10),(2011.26,10),(2011.44,10),(2011.55,10),(2011.73,10),(2012.00,10),
    (2012.19,10),(2012.37,10),(2012.48,10),(2012.74,10),(2012.89,10),(2013.00,10),(2013.09,11),(2013.27,11),
    (2013.42,10),(2013.54,10),(2013.83,10),(2014.00,10),(2014.20,10),(2014.35,10),(2014.46,10),(2014.63,10),
    (2014.73,11),(2014.84,10),(2014.99,10),(2015.16,10),(2015.28,10),(2015.45,10),(2015.63,10),(2015.81,10),
    (2015.92,10),(2016.04,10),(2016.15,11),(2016.24,10),(2016.39,10),(2016.62,10),(2016.79,10),(2016.94,10),
    (2017.03,10),(2017.13,10)]

BLACK = '#000000'
RED = '#e0141a'
BLUE = '#0a0ab8'
TEMP = '#6e0000'
GRID_V = '#1c1c1c'
GRID_H = '#5a5a5a'


def px_axes(fig, x0, y0, x1, y1):
    return fig.add_axes([x0 / W, 1 - y1 / H, (x1 - x0) / W, (y1 - y0) / H])


def series(ax, data, color, lw=1.3, ms=3.4):
    arr = np.array(data, dtype=float)
    ax.plot(arr[:, 0], arr[:, 1], color=color, lw=lw, marker='s', ms=ms,
            mfc=color, mec=color, zorder=3, clip_on=False)


def time_grid(ax, minor_dir):
    ax.set_xlim(2004, 2018)
    ax.xaxis.set_major_locator(MultipleLocator(1))
    ax.xaxis.set_minor_locator(MultipleLocator(1 / 12))
    ax.grid(axis='x', which='major', color=GRID_V, lw=1.0, zorder=1)
    ax.tick_params(axis='x', which='major', direction='out', length=8.5, width=1,
                   labelbottom=False, color='#222')
    ax.tick_params(axis='x', which='minor', direction=minor_dir, length=4.5, width=0.8, color='#222')
    for s in ax.spines.values():
        s.set_color('#222')
        s.set_linewidth(1.1)


def year_labels_below(ax):
    sec = ax.secondary_xaxis('bottom')
    sec.set_xticks([y + 0.5 for y in years], labels=year_labels)
    sec.tick_params(length=0, pad=11, labelsize=12, labelcolor='#222')
    sec.spines['bottom'].set_visible(False)


def y_style(ax, major, minor, lo, hi, fmt, side='left'):
    ax.set_ylim(lo, hi)
    ax.yaxis.set_major_locator(MultipleLocator(major))
    ax.yaxis.set_minor_locator(MultipleLocator(minor))
    ax.yaxis.set_major_formatter(fmt)
    ax.grid(axis='y', which='major', color=GRID_H, lw=1.3, zorder=1)
    if side == 'right':
        ax.yaxis.tick_right()
    ax.tick_params(axis='y', which='major', direction='out', length=8.5, width=1,
                   labelsize=11.5, labelcolor='#222', pad=5, color='#222')
    ax.tick_params(axis='y', which='minor', direction='out', length=4.5, width=0.8, color='#222')


def panel(fig, x0, x1, ang_bottom, t_top, t_bottom, ang_lo, disp, ang, temp, name, tx):
    # displacement
    ax = px_axes(fig, x0, 87.5, x1, 511.6)
    time_grid(ax, 'in')
    ax.tick_params(axis='x', which='both', bottom=False)
    y_style(ax, 0.04, 0.008, -0.08, 0.08, FormatStrFormatter('%.2f'))
    for data, col in disp:
        series(ax, data, col)

    # angular deviation
    aa = px_axes(fig, x0, 511.6, x1, ang_bottom)
    time_grid(aa, 'in')
    aa.spines['top'].set_visible(False)
    y_style(aa, 0.04, 0.008, ang_lo, 0.08, FormatStrFormatter('%.2f'), side='right')
    year_labels_below(aa)
    for data, col in ang:
        series(aa, data, col)

    # temperature
    at = px_axes(fig, x0, t_top, x1, t_bottom)
    time_grid(at, 'out')
    y_style(at, 0.4, 0.08, 10, 12, FuncFormatter(lambda v, p: f'{v:g}'))
    year_labels_below(at)
    series(at, temp, TEMP, lw=2.2, ms=3.6)

    # texts
    fig.text(tx['mm'] / W, 1 - 68 / H, '[mm] displacement x,y,z', fontsize=14, va='center', color='#111')
    fig.text(tx['name'] / W, 1 - 54 / H, name, fontsize=27.5, ha='center', va='center', color='#000')
    for lab, col, xx in zip(['x', 'y', 'z'], [BLACK, RED, BLUE], tx['xyz']):
        fig.text(xx / W, 1 - 55 / H, lab, fontsize=16, fontweight='bold', fontstyle='italic',
                 ha='center', va='center', color=col)
    fig.text(tx['ang'] / W, 1 - 533 / H, '[ π/200] angular deviation', fontsize=13.8,
             ha='right', va='center', color='#111')
    fig.text(tx['temp'] / W, 1 - tx['ty'] / H, '[t°C] temperature', fontsize=14.5, va='center', color='#111')
    fig.text(tx['gxy'] / W, 1 - (tx['ty'] + 4) / H, 'gama xy', fontsize=17, fontweight='bold',
             fontstyle='italic', ha='center', va='center', color=RED)
    fig.text(tx['gxz'] / W, 1 - (tx['ty'] + 6) / H, 'gama xz', fontsize=17, fontweight='bold',
             fontstyle='italic', ha='center', va='center', color=BLUE)
    fig.text(tx['t'] / W, 1 - (tx['ty'] + 52) / H, 't', fontsize=25, ha='center', va='center', color='#7a0000')


fig = plt.figure(figsize=(W / 100, H / 100), dpi=100)

# slide background
bg = fig.add_axes([0, 0, 1, 1])
stops = [0.0, 0.2, 0.36, 0.5, 0.65, 0.82, 1.0]
cols = np.array([(221, 225, 204), (250, 250, 206), (214, 215, 214), (172, 172, 222),
                 (128, 128, 232), (68, 68, 242), (20, 20, 250)]) / 255
xs = np.linspace(0, 1, 900)
grad = np.stack([np.interp(xs, stops, cols[:, i]) for i in range(3)], axis=-1)
bg.imshow(grad[None, :, :], extent=[0, 1, 0, 1], aspect='auto', interpolation='bilinear')
bg.set_xlim(0, 1)
bg.set_ylim(0, 1)
bg.axis('off')
bg.add_patch(Rectangle((41 / W, 0), (960 - 41) / W, 1 - 31 / H, color='white', zorder=2))
bg.add_patch(Rectangle((1018 / W, 0), (W - 1018) / W, 1 - 31 / H, color='white', zorder=2))

# slide title: only the descenders fall inside the picture
fig.text(221 / W, 1 + 1 / H, title, family=['Liberation Serif', 'DejaVu Serif'], fontsize=59,
         va='baseline', ha='left', color='#151515')

panel(fig, 98.6, 902, 937, 1008.4, 1267.3, -0.12,
      [(p1_disp_x, BLACK), (p1_disp_y, RED), (p1_disp_z, BLUE)],
      [(p1_ang_xy, RED), (p1_ang_xz, BLUE)], p1_temp, 'Postojna 1',
      dict(mm=47, name=444, xyz=[735, 770, 800], ang=895, temp=65, ty=986, gxy=688, gxz=815, t=931))

panel(fig, 1075, 1876, 935, 1006, 1265, -0.04,
      [(p2_disp_x, BLACK), (p2_disp_z, BLUE), (p2_disp_y, RED)],
      [(p2_ang_xy, RED), (p2_ang_xz, BLUE)], p2_temp, 'Postojna 2',
      dict(mm=1023, name=1418, xyz=[1709, 1743, 1773], ang=1868, temp=1042, ty=984, gxy=1662, gxz=1788, t=1905))

fig.savefig('out.png', dpi=100)
